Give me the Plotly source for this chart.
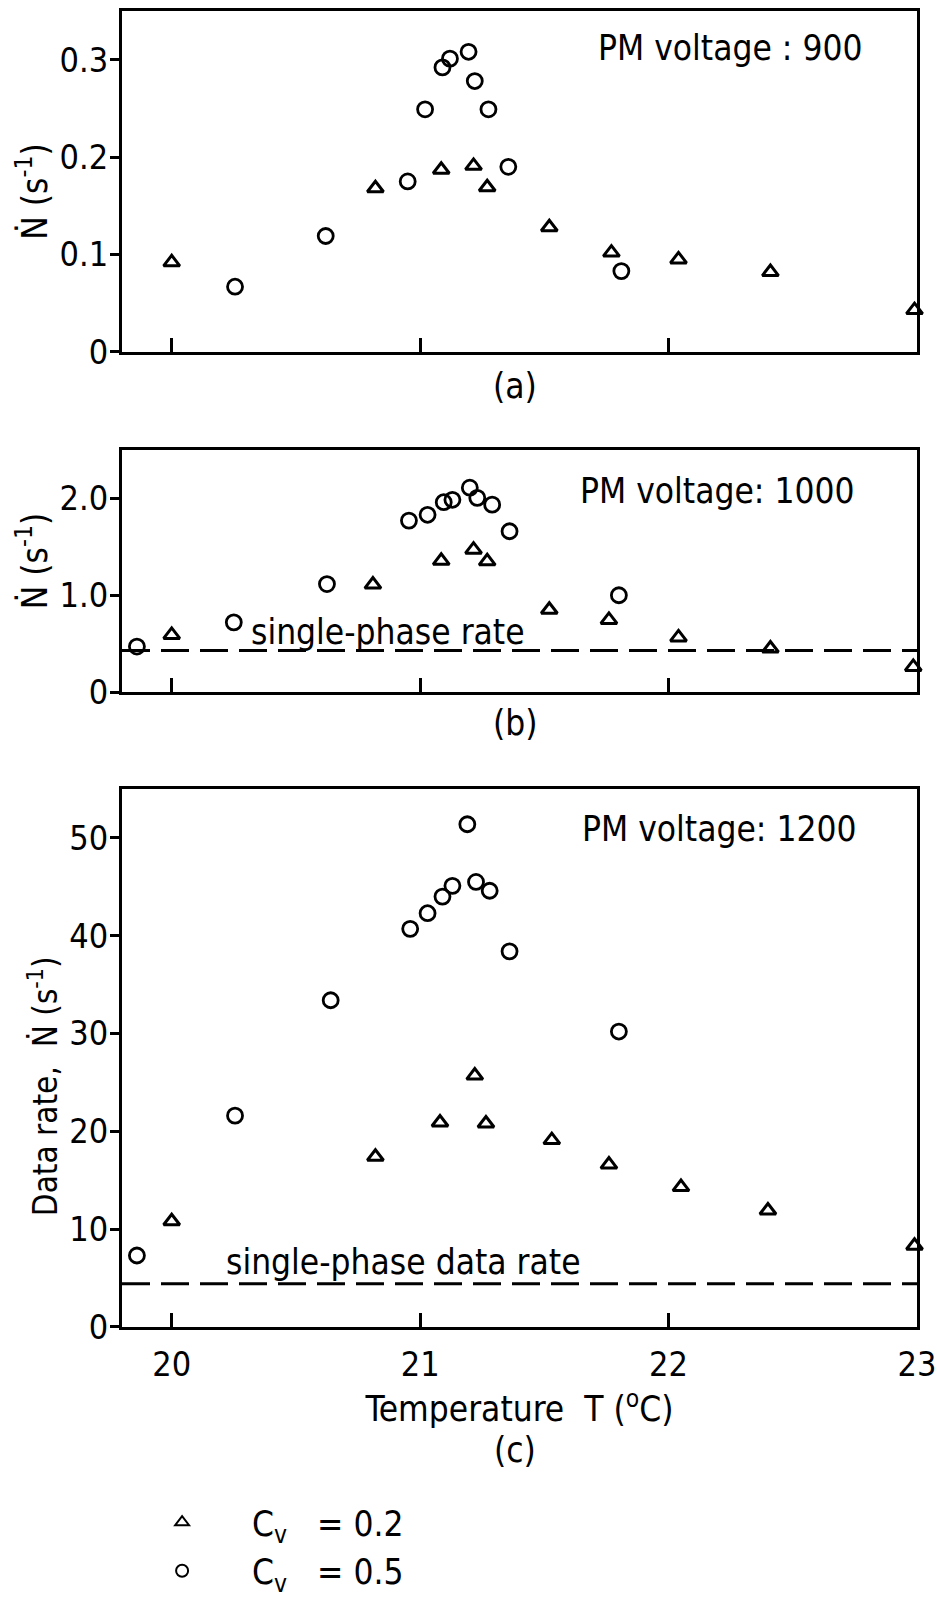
import plotly.graph_objects as go

# ---------------- data ----------------
# Panel (a) PM voltage 900
temp_tri_a = [20.0, 20.82, 21.085, 21.215, 21.27, 21.52, 21.77, 22.04, 22.41, 22.99]
rate_tri_a = [0.092, 0.168, 0.187, 0.191, 0.169, 0.128, 0.102, 0.095, 0.082, 0.043]
temp_circ_a = [20.255, 20.62, 20.95, 21.02, 21.09, 21.12, 21.195, 21.22, 21.275, 21.355, 21.81]
rate_circ_a = [0.067, 0.119, 0.175, 0.249, 0.292, 0.301, 0.308, 0.278, 0.249, 0.190, 0.083]

# Panel (b) PM voltage 1000
temp_tri_b = [20.0, 20.81, 21.085, 21.215, 21.27, 21.52, 21.76, 22.04, 22.41, 22.985]
rate_tri_b = [0.59, 1.11, 1.355, 1.47, 1.35, 0.85, 0.745, 0.565, 0.45, 0.26]
temp_circ_b = [19.86, 20.25, 20.625, 20.955, 21.03, 21.095, 21.13, 21.2, 21.23, 21.29, 21.36, 21.80]
rate_circ_b = [0.47, 0.72, 1.115, 1.77, 1.83, 1.96, 1.985, 2.11, 2.005, 1.935, 1.66, 1.0]
single_phase_b = 0.43

# Panel (c) PM voltage 1200
temp_tri_c = [20.0, 20.82, 21.08, 21.22, 21.265, 21.53, 21.76, 22.05, 22.40, 22.99]
rate_tri_c = [10.8, 17.4, 20.9, 25.7, 20.8, 19.1, 16.6, 14.3, 11.9, 8.3]
temp_circ_c = [19.86, 20.255, 20.64, 20.96, 21.03, 21.09, 21.13, 21.19, 21.225, 21.28, 21.36, 21.80]
rate_circ_c = [7.3, 21.6, 33.4, 40.7, 42.3, 44.0, 45.1, 51.4, 45.5, 44.6, 38.4, 30.2]
single_phase_c = 4.4

temp_range = [19.8, 23.0]
x_ticks = [20, 21, 22, 23]
y_ticks_a = [0, 0.1, 0.2, 0.3]
y_ticktext_a = ["0", "0.1", "0.2", "0.3"]
y_ticks_b = [0, 1.0, 2.0]
y_ticktext_b = ["0", "1.0", "2.0"]
y_ticks_c = [0, 10, 20, 30, 40, 50]
y_ticktext_c = ["0", "10", "20", "30", "40", "50"]

# ---------------- styling ----------------
FONT = "DejaVu Sans Condensed, DejaVu Sans, sans-serif"
TXT = 35
TICK = 34
W, H = 937, 1600
left_px, right_px = 122, 917
panels_px = {"a": (11, 356), "b": (455, 700), "c": (798, 1342)}
NB = "\u00a0"

def spacer(n):
    # invisible filler used only to offset a rotated title from the panel centre
    return "<span style='color:rgba(0,0,0,0)'>" + "0" * n + "</span>"

def ydom(top, bot):
    return [1 - bot / H, 1 - top / H]

xdom = [left_px / W, right_px / W]

tri_style = dict(symbol="triangle-up-open", size=14, color="black", line=dict(width=3, color="black"))
circ_style = dict(symbol="circle-open", size=15, color="black", line=dict(width=2.8, color="black"))

fig = go.Figure()

def add_panel(xa, ya, tx, ty, cx, cy, show_legend):
    pad = NB * 5
    fig.add_trace(go.Scatter(x=tx, y=ty, mode="markers", marker=tri_style, xaxis=xa, yaxis=ya,
                             cliponaxis=False, showlegend=show_legend, legendgroup="t",
                             name=pad + "C<sub>v</sub>" + NB * 2 + " = 0.2"))
    fig.add_trace(go.Scatter(x=cx, y=cy, mode="markers", marker=circ_style, xaxis=xa, yaxis=ya,
                             cliponaxis=False, showlegend=show_legend, legendgroup="c",
                             name=pad + "C<sub>v</sub>" + NB * 2 + " = 0.5"))

add_panel("x", "y", temp_tri_a, rate_tri_a, temp_circ_a, rate_circ_a, False)
add_panel("x2", "y2", temp_tri_b, rate_tri_b, temp_circ_b, rate_circ_b, False)
add_panel("x3", "y3", temp_tri_c, rate_tri_c, temp_circ_c, rate_circ_c, True)

dash = "28px,11px"
fig.add_trace(go.Scatter(x=temp_range, y=[single_phase_b] * 2, mode="lines", xaxis="x2", yaxis="y2",
                         line=dict(color="black", width=3, dash=dash), showlegend=False, hoverinfo="skip"))
fig.add_trace(go.Scatter(x=temp_range, y=[single_phase_c] * 2, mode="lines", xaxis="x3", yaxis="y3",
                         line=dict(color="black", width=3, dash=dash), showlegend=False, hoverinfo="skip"))

def xaxis(anchor, show_labels):
    return dict(domain=xdom, range=temp_range, anchor=anchor, showline=True, mirror=True, linewidth=3,
                linecolor="black", ticks="inside", ticklen=14, tickwidth=2.5, tickcolor="black",
                tickvals=x_ticks, showticklabels=show_labels, showgrid=False, zeroline=False,
                tickfont=dict(family=FONT, size=TICK, color="black"), ticklabelstandoff=5,
                ticklabeloverflow="allow", automargin=False)

def yaxis(anchor, dom, rng, tv, tt, title, tsize=TXT):
    return dict(domain=dom, range=rng, anchor=anchor, showline=True, mirror=True, linewidth=3,
                linecolor="black", ticks="outside", ticklen=9, tickwidth=2.5, tickcolor="black",
                tickvals=tv, ticktext=tt, showgrid=False, zeroline=False,
                tickfont=dict(family=FONT, size=TICK, color="black"), ticklabelstandoff=-5,
                title=dict(text=title, font=dict(family=FONT, size=tsize, color="black"), standoff=2),
                automargin=False)

ylab = "\u1E44 (s<sup>-1</sup>)"
fig.update_layout(
    width=W, height=H, paper_bgcolor="white", plot_bgcolor="white",
    margin=dict(l=0, r=0, t=0, b=0),
    font=dict(family=FONT, size=TXT, color="black"),
    xaxis=xaxis("y", False),
    xaxis2=xaxis("y2", False),
    xaxis3=dict(xaxis("y3", True), title=dict(text="Temperature" + NB + " T (<sup>o</sup>C)",
                font=dict(family=FONT, size=TXT, color="black"), standoff=6)),
    yaxis=yaxis("x", ydom(*panels_px["a"]), [0, 0.35], y_ticks_a, y_ticktext_a, ylab + spacer(1)),
    yaxis2=yaxis("x2", ydom(*panels_px["b"]), [0, 2.5], y_ticks_b, y_ticktext_b, spacer(1) + ylab),
    yaxis3=yaxis("x3", ydom(*panels_px["c"]), [0, 55], y_ticks_c, y_ticktext_c,
                 "Data rate," + NB + " " + ylab + spacer(3), tsize=33),
    legend=dict(x=0.173, y=0.056, xanchor="left", yanchor="top", bgcolor="rgba(0,0,0,0)",
                font=dict(family=FONT, size=TXT, color="black"), tracegroupgap=0, itemsizing="constant"),
    showlegend=True,
)

ann_font = dict(family=FONT, size=TXT, color="black")
annotations = [
    dict(text="PM voltage : 900", xref="x domain", yref="y domain", x=0.935, y=0.89, xanchor="right", yanchor="middle"),
    dict(text="PM voltage: 1000", xref="x2 domain", yref="y2 domain", x=0.925, y=0.83, xanchor="right", yanchor="middle"),
    dict(text="PM voltage: 1200", xref="x3 domain", yref="y3 domain", x=0.927, y=0.925, xanchor="right", yanchor="middle"),
    dict(text="single-phase rate", xref="x2", yref="y2", x=20.31, y=0.62, xanchor="left", yanchor="middle"),
    dict(text="single-phase data rate", xref="x3", yref="y3", x=20.21, y=6.6, xanchor="left", yanchor="middle"),
    dict(text="(a)", xref="paper", yref="paper", x=515 / W, y=1 - 390 / H, xanchor="center", yanchor="middle"),
    dict(text="(b)", xref="paper", yref="paper", x=515 / W, y=1 - 731 / H, xanchor="center", yanchor="middle"),
    dict(text="(c)", xref="paper", yref="paper", x=515 / W, y=1 - 1467 / H, xanchor="center", yanchor="middle"),
]
for a in annotations:
    a["showarrow"] = False
    a["font"] = ann_font
fig.update_layout(annotations=annotations)

fig.write_html("out.html", config={"displayModeBar": False},
               post_script="document.body.style.margin='0';document.body.style.overflow='hidden';")
